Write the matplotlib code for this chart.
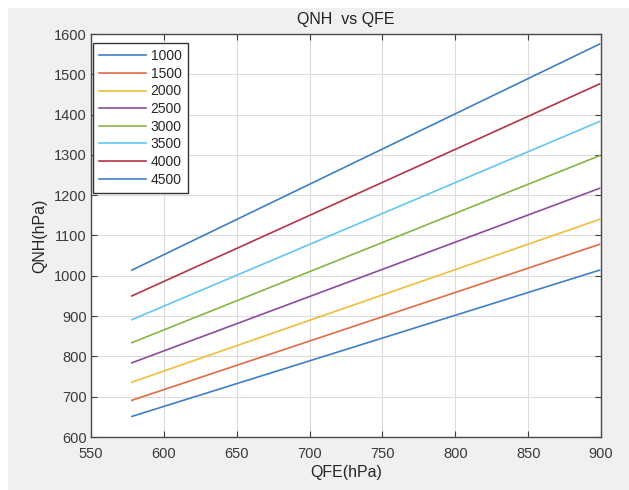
import numpy as np
import matplotlib.pyplot as plt
from matplotlib.patches import Rectangle

plt.rcParams['font.family'] = ['Liberation Sans', 'DejaVu Sans']

# 高度(ft) 与两端读数
heights = ['1000', '1500', '2000', '2500', '3000', '3500', '4000', '4500']
qfe = [578, 899]
qnh_start = [651, 691, 736, 784, 834, 891, 950, 1014]
qnh_end = [1014, 1078, 1140, 1217, 1298, 1383, 1476, 1575]

colors = ['#3f7fc4', '#e06a45', '#efbd3c', '#8d4b9c', '#86b545',
          '#62c6f0', '#b33447', '#3f7fc4']

fig = plt.figure(figsize=(6.29, 4.90), dpi=100)
fig.patch.set_facecolor('white')
# 灰色底 (MATLAB figure window)
fig.patches.append(Rectangle((8 / 629, 0), 1, 1 - 8 / 490,
                             transform=fig.transFigure, facecolor='#f0f0f0',
                             edgecolor='none', zorder=-10))

ax = fig.add_axes([91 / 629, 1 - 437 / 490, 510 / 629, 403 / 490])
ax.set_facecolor('white')

for i in range(len(heights)):
    ax.plot(qfe, [qnh_start[i], qnh_end[i]], color=colors[i], lw=1.2,
            label=heights[i])

ax.set_xlim(550, 900)
ax.set_ylim(600, 1600)
ax.set_xticks(range(550, 901, 50))
ax.set_yticks(range(600, 1601, 100))
ax.grid(True, color='#dcdcdc', lw=0.8)
ax.set_axisbelow(True)
ax.tick_params(direction='in', length=4, width=0.8, top=True, right=True,
               labelsize=10.5, colors='#3a3a3a', pad=3)
ax.tick_params(axis='x', pad=7)
for s in ax.spines.values():
    s.set_color('#4a4a4a')
    s.set_linewidth(1.0)

ax.set_title('QNH  vs QFE', fontsize=11.5, color='#222222', pad=7)
ax.set_xlabel('QFE(hPa)', fontsize=11.5, color='#262626', labelpad=3)
ax.set_ylabel('QNH(hPa)', fontsize=11.5, color='#262626', labelpad=5)

leg = ax.legend(loc='upper left', bbox_to_anchor=(2 / 510, 1 - 9 / 403),
                fontsize=10, frameon=True, fancybox=False,
                borderaxespad=0, handlelength=3.4, handletextpad=0.3,
                labelspacing=0.26, borderpad=0.45, labelcolor='#262626')
leg.get_frame().set_edgecolor('#333333')
leg.get_frame().set_linewidth(1.0)
leg.get_frame().set_alpha(1)

fig.savefig('out.png', dpi=100, facecolor=fig.get_facecolor())
